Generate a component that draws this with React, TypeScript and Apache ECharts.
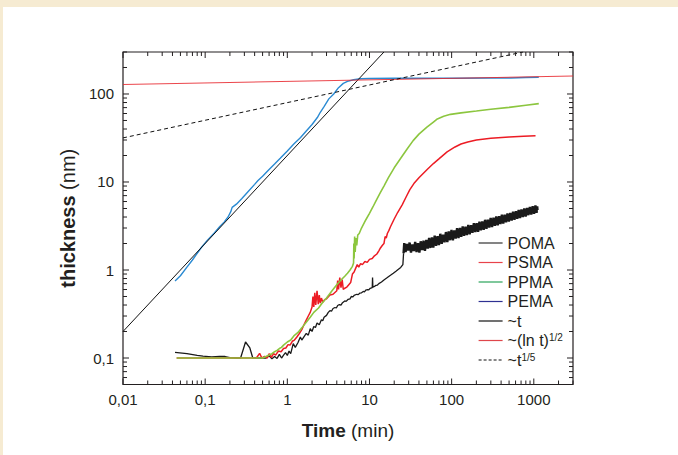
import React, { useEffect, useRef } from 'react';
import * as echarts from 'echarts';

const FONT = '"Liberation Sans", Arial, Helvetica, sans-serif';
const INK = '#231f20';

const X_MIN = 0.01;
const X_MAX = 3000;
const Y_MIN = 0.05;
const Y_MAX = 300;

const xTickValues = [0.01, 0.1, 1, 10, 100, 1000];
const xTickLabels = ['0,01', '0,1', '1', '10', '100', '1000'];
const yTickValues = [0.1, 1, 10, 100];
const yTickLabels = ['0,1', '1', '10', '100'];

const xAxisName = 'Time';
const xAxisUnit = '(min)';
const yAxisName = 'thickness';
const yAxisUnit = '(nm)';

const seriesNames = ['POMA', 'PSMA', 'PPMA', 'PEMA', '~t', '~(ln t)^1/2', '~t^1/5'];

// POMA (black) – early, thin part
const pomaEarly: [number, number][] = [
  [0.043, 0.116], [0.06, 0.112], [0.08, 0.107], [0.094, 0.105], [0.12, 0.103], [0.15, 0.104], [0.175, 0.104],
  [0.2, 0.101], [0.24, 0.1], [0.27, 0.1], [0.31, 0.152], [0.35, 0.13], [0.38, 0.1], [0.45, 0.1], [0.55, 0.1],
  [0.6, 0.106], [0.65, 0.098], [0.7, 0.104], [0.75, 0.099], [0.8, 0.11], [0.85, 0.1], [0.9, 0.108], [0.95, 0.115],
  [1.0, 0.107], [1.05, 0.12], [1.1, 0.112], [1.18, 0.146], [1.25, 0.132], [1.35, 0.15], [1.44, 0.173], [1.5, 0.16],
  [1.6, 0.175], [1.7, 0.19], [1.8, 0.182], [1.9, 0.216], [2.0, 0.2], [2.1, 0.228], [2.2, 0.222], [2.3, 0.25],
  [2.45, 0.238], [2.6, 0.272], [2.7, 0.265], [2.8, 0.29], [3.0, 0.305], [3.15, 0.33], [3.3, 0.345], [3.45, 0.34],
  [3.6, 0.365], [3.8, 0.375], [3.95, 0.37], [4.1, 0.395], [4.3, 0.405], [4.5, 0.4], [4.7, 0.425], [5.0, 0.445],
  [5.2, 0.44], [5.5, 0.465], [5.8, 0.47], [6.0, 0.5], [6.3, 0.495], [6.5, 0.515], [7.0, 0.53], [7.3, 0.525],
  [7.6, 0.545], [8.0, 0.55], [8.4, 0.57], [8.7, 0.565], [9.0, 0.59], [9.5, 0.6], [9.8, 0.595], [10.2, 0.62],
  [10.8, 0.63], [10.9, 0.82], [11.0, 0.64], [11.5, 0.65], [12, 0.67], [12.5, 0.675], [13, 0.7], [14, 0.73],
  [15, 0.77], [16.5, 0.82], [18, 0.87], [19.5, 0.92], [21, 0.97], [22.5, 1.02], [24, 1.07], [25.5, 1.15],
  [26.0, 1.55],
];

// POMA (black) – late, dense noisy band
const pomaLate: [number, number][] = [
  [26.0, 1.55], [26.5, 2.02], [27.5, 1.6], [28.5, 1.98], [29.6, 1.66], [30.8, 2.05], [32, 1.58],
  [33.3, 1.95], [34.6, 1.64], [36, 2.08], [37.4, 1.6], [38.9, 2.02], [40.5, 1.58], [42, 2.12], [43.7, 1.68],
  [45.5, 2.15], [47.3, 1.65], [49.2, 2.2], [51.2, 1.75], [53.2, 2.32], [55.3, 1.78], [57.5, 2.34], [59.8, 1.8],
  [62.2, 2.45], [64.7, 1.88], [67.3, 2.42], [70, 1.92], [72.8, 2.58], [75.7, 1.98], [78.7, 2.52], [81.9, 2.06],
  [85.2, 2.7], [88.6, 2.08], [92.1, 2.75], [95.8, 2.18], [99.6, 2.86], [103.6, 2.18], [107.7, 2.82], [112, 2.28],
  [116.5, 2.98], [121.2, 2.3], [126, 3.0], [131, 2.38], [136.3, 3.12], [141.7, 2.44], [147.4, 3.1],
  [153.3, 2.5], [159.4, 3.25], [165.8, 2.55], [172.4, 3.22], [179.3, 2.65], [186.5, 3.4], [194, 2.7],
  [201.7, 3.4], [209.8, 2.72], [218.2, 3.55], [226.9, 2.82], [236, 3.56], [245.4, 2.86], [255.2, 3.72],
  [265.4, 2.94], [276, 3.74], [287, 3.04], [298.5, 3.9], [310.5, 3.08], [323, 3.92], [336, 3.18], [349.4, 4.06],
  [363.4, 3.22], [378, 4.08], [393, 3.32], [408.7, 4.24], [425, 3.38], [442, 4.26], [459.7, 3.48], [478, 4.4],
  [497, 3.55], [517, 4.46], [537.7, 3.64], [559, 4.6], [581.5, 3.72], [604.8, 4.66], [629, 3.82], [654, 4.82],
  [680, 3.9], [707, 4.88], [735.5, 4.0], [765, 5.02], [795.5, 4.06], [827, 5.08], [860, 4.2], [895, 5.22],
  [931, 4.26], [968, 5.3], [1007, 4.36], [1047, 5.4], [1080, 4.45], [1100, 5.28], [1110, 4.8],
];

// PSMA (red)
const psmaData: [number, number][] = [
  [0.045, 0.1], [0.1, 0.1], [0.2, 0.1], [0.3, 0.1], [0.42, 0.1], [0.46, 0.113], [0.49, 0.1], [0.53, 0.104],
  [0.57, 0.1], [0.6, 0.112], [0.64, 0.102], [0.68, 0.112], [0.72, 0.108], [0.78, 0.12], [0.84, 0.118],
  [0.9, 0.128], [0.96, 0.13], [1.02, 0.142], [1.08, 0.14], [1.15, 0.155], [1.22, 0.16], [1.3, 0.172],
  [1.4, 0.19], [1.5, 0.21], [1.6, 0.24], [1.7, 0.27], [1.8, 0.3], [1.9, 0.33], [2.0, 0.38], [2.05, 0.5],
  [2.1, 0.38], [2.16, 0.55], [2.22, 0.4], [2.3, 0.58], [2.38, 0.41], [2.45, 0.52], [2.52, 0.42], [2.6, 0.48],
  [2.7, 0.43], [2.85, 0.46], [3.0, 0.47], [3.3, 0.52], [3.6, 0.53], [4.0, 0.58], [4.1, 0.76], [4.2, 0.6],
  [4.35, 0.82], [4.5, 0.63], [4.65, 0.78], [4.8, 0.6], [5.0, 0.62], [5.3, 0.64], [5.6, 0.68], [5.9, 0.72],
  [6.2, 0.9], [6.5, 0.95], [6.8, 1.05], [7.1, 1.15], [7.4, 1.08], [7.8, 1.18], [8.2, 1.15], [8.8, 1.25],
  [9.4, 1.22], [10, 1.32], [10.8, 1.35], [11.5, 1.45], [12.3, 1.52], [13.0, 1.65], [13.6, 1.78], [14.3, 1.9],
  [15.0, 2.0], [15.5, 2.4], [16, 2.3], [16.5, 2.6], [17.2, 2.8], [18, 3.1], [20, 3.8], [22, 4.5], [25, 5.5],
  [28, 6.8], [31, 8.2], [34.7, 9.6], [40, 11.2], [50, 13.8], [60, 16.2], [70, 18.3], [88, 22], [110, 25],
  [130, 27], [157, 28.5], [200, 30], [300, 31.5], [500, 32.5], [750, 33.2], [1050, 33.5],
];

// PPMA (green)
const ppmaData: [number, number][] = [
  [0.045, 0.1], [0.1, 0.1], [0.2, 0.1], [0.3, 0.1], [0.4, 0.1], [0.5, 0.1], [0.55, 0.104], [0.6, 0.108],
  [0.65, 0.112], [0.7, 0.118], [0.75, 0.122], [0.8, 0.128], [0.85, 0.132], [0.9, 0.14], [1.0, 0.152],
  [1.1, 0.16], [1.2, 0.178], [1.35, 0.195], [1.5, 0.22], [1.7, 0.255], [1.9, 0.29], [2.1, 0.33], [2.4, 0.37],
  [2.7, 0.43], [3.0, 0.48], [3.5, 0.58], [4.0, 0.68], [4.5, 0.77], [5.0, 0.85], [5.4, 0.92], [5.8, 1.0],
  [6.2, 1.1], [6.4, 1.2], [6.45, 2.0], [6.5, 1.35], [6.6, 2.4], [6.7, 1.6], [6.85, 2.3], [7.0, 1.9],
  [7.2, 2.5], [7.5, 2.6], [8, 3.0], [9, 3.7], [10, 4.4], [11, 5.2], [12, 6.1], [13.6, 7.6], [15, 9],
  [17, 11.2], [20, 14.5], [24, 18.6], [29, 24], [34, 29.5], [40, 35], [50, 42], [60, 48], [67, 52], [80, 56],
  [97, 58.7], [130, 61], [200, 64], [300, 67], [500, 70.5], [800, 74.5], [1150, 77.8],
];

// PEMA (blue)
const pemaData: [number, number][] = [
  [0.043, 0.75], [0.05, 0.86], [0.06, 1.08], [0.07, 1.3], [0.08, 1.55], [0.09, 1.8], [0.106, 2.17],
  [0.13, 2.65], [0.15, 3.1], [0.17, 3.5], [0.19, 4.0], [0.205, 4.6], [0.213, 5.15], [0.24, 5.6], [0.28, 6.5],
  [0.33, 7.7], [0.4, 9.4], [0.44, 10.4], [0.5, 11.6], [0.6, 13.9], [0.7, 16], [0.82, 18.6], [1.0, 22.5],
  [1.2, 27], [1.45, 32], [1.7, 38], [2.0, 45], [2.32, 54], [2.52, 62], [2.8, 72], [3.2, 88], [3.67, 100],
  [4.2, 118], [4.8, 132], [5.4, 139], [6.4, 145], [7.8, 149], [10, 150], [20, 151], [50, 151], [100, 151],
  [300, 152], [525, 152], [800, 154], [1150, 155],
];

// fit lines
const linearFit: [number, number][] = [[0.01, 0.2], [15, 300]];
const lnFit: [number, number][] = [[0.01, 128], [3000, 160]];
const fifthFit: [number, number][] = [[0.01, 31.7], [740, 300]];

const seriesColors = ['#1a1a1a', '#ec1c24', '#8cc63f', '#2a8ad2', '#111111', '#e8262d', '#111111'];
const legendColors = ['#333333', '#e8434a', '#2aa35a', '#2e3192', '#111111', '#d9262b', '#111111'];

function nearestLabel(v: number, values: number[], labels: string[]) {
  for (let i = 0; i < values.length; i++) {
    if (Math.abs(Math.log10(v) - Math.log10(values[i])) < 1e-6) return labels[i];
  }
  return '';
}

function buildTicks(lo: number, hi: number): [number, number][] {
  const out: [number, number][] = [];
  for (let e = -3; e <= 4; e++) {
    for (let m = 1; m <= 9; m++) {
      const v = m * Math.pow(10, e);
      if (v >= lo * 0.9999 && v <= hi * 1.0001) out.push([v, m === 1 ? 1 : 0]);
    }
  }
  return out;
}

export default function App() {
  const ref = useRef<HTMLDivElement>(null);
  useEffect(() => {
    if (!ref.current) return;
    const chart = echarts.init(ref.current, undefined, { renderer: 'svg' });
    const tickStyle = { stroke: INK, lineWidth: 1 };
    const xTicks = buildTicks(X_MIN, X_MAX);
    const yTicks = buildTicks(Y_MIN, Y_MAX);

    const lineSeries = (name: string, data: [number, number][], idx: number, extra: any = {}) => ({
      type: 'line',
      name,
      data,
      symbol: 'none',
      showSymbol: false,
      clip: true,
      silent: true,
      lineStyle: { color: seriesColors[idx], width: 1.4, ...(extra.lineStyle || {}) },
      itemStyle: { color: seriesColors[idx] },
      z: extra.z ?? 3,
    });

    const supMap: Record<string, string> = {
      '~(ln t)^1/2': '~(ln t){sup|1/2}',
      '~t^1/5': '~t{sup|1/5}',
    };

    chart.setOption({
      animation: false,
      backgroundColor: 'transparent',
      grid: {
        left: 123, top: 52, width: 450, height: 332.5,
        show: true, borderColor: INK, borderWidth: 1.2, backgroundColor: 'transparent',
      },
      xAxis: {
        type: 'log', logBase: 10, min: X_MIN, max: X_MAX,
        axisLine: { show: false }, axisTick: { show: false }, splitLine: { show: false },
        axisLabel: {
          margin: 7, fontFamily: FONT, fontSize: 15, color: INK,
          formatter: (v: number) => nearestLabel(v, xTickValues, xTickLabels),
        },
        name: `{b|${xAxisName}} ${xAxisUnit}`,
        nameLocation: 'middle', nameGap: 36,
        nameTextStyle: {
          fontFamily: FONT, fontSize: 19, color: INK,
          rich: { b: { fontFamily: FONT, fontSize: 19, fontWeight: 'bold', color: INK } },
        },
      },
      yAxis: {
        type: 'log', logBase: 10, min: Y_MIN, max: Y_MAX,
        axisLine: { show: false }, axisTick: { show: false }, splitLine: { show: false },
        axisLabel: {
          margin: 9, fontFamily: FONT, fontSize: 15, color: INK,
          formatter: (v: number) => nearestLabel(v, yTickValues, yTickLabels),
        },
        name: `{b|${yAxisName}} ${yAxisUnit}`,
        nameLocation: 'middle', nameGap: 29, nameRotate: 90,
        nameTextStyle: {
          fontFamily: FONT, fontSize: 20, color: INK,
          rich: { b: { fontFamily: FONT, fontSize: 20, fontWeight: 'bold', color: INK } },
        },
      },
      legend: {
        orient: 'vertical', left: 478, top: 235, padding: 0,
        itemWidth: 24, itemHeight: 10, itemGap: 3.5,
        selectedMode: false,
        textStyle: {
          fontFamily: FONT, fontSize: 16, color: INK, lineHeight: 16,
          rich: { sup: { fontFamily: FONT, fontSize: 10, color: INK, verticalAlign: 'top', lineHeight: 10 } },
        },
        formatter: (name: string) => supMap[name] ?? name,
        data: seriesNames.map((n, i) => ({
          name: n,
          lineStyle: { color: legendColors[i], width: 1.2, type: i === 6 ? [3, 2] : 'solid' },
          itemStyle: { color: 'rgba(0,0,0,0)', borderWidth: 0, opacity: 0 },
        })),
      },
      series: [
        lineSeries(seriesNames[0], pomaEarly, 0, { lineStyle: { width: 1.3 } }),
        lineSeries(seriesNames[0], pomaLate, 0, { lineStyle: { width: 2.4 } }),
        lineSeries(seriesNames[1], psmaData, 1, { lineStyle: { width: 1.5 } }),
        lineSeries(seriesNames[2], ppmaData, 2, { lineStyle: { width: 1.6 } }),
        lineSeries(seriesNames[3], pemaData, 3, { lineStyle: { width: 1.4 } }),
        lineSeries(seriesNames[4], linearFit, 4, { lineStyle: { width: 1 }, z: 4 }),
        lineSeries(seriesNames[5], lnFit, 5, { lineStyle: { width: 1.1, opacity: 0.85 }, z: 4 }),
        lineSeries(seriesNames[6], fifthFit, 6, { lineStyle: { width: 1, type: [4, 3] }, z: 4 }),
        {
          type: 'custom', name: 'xticks', silent: true, clip: false, z: 10,
          data: xTicks.map(([v, major]) => [v, 1, major]),
          encode: { x: 0, y: 1 },
          renderItem: (params: any, api: any) => {
            const v = api.value(0);
            const len = api.value(2) ? 6 : 4;
            const b = api.coord([v, Y_MIN]);
            const t = api.coord([v, Y_MAX]);
            return {
              type: 'group',
              children: [
                { type: 'line', shape: { x1: b[0], y1: b[1], x2: b[0], y2: b[1] - len }, style: tickStyle },
                { type: 'line', shape: { x1: t[0], y1: t[1], x2: t[0], y2: t[1] + len }, style: tickStyle },
              ],
            };
          },
        },
        {
          type: 'custom', name: 'yticks', silent: true, clip: false, z: 10,
          data: yTicks.map(([v, major]) => [1, v, major]),
          encode: { x: 0, y: 1 },
          renderItem: (params: any, api: any) => {
            const v = api.value(1);
            const len = api.value(2) ? 6 : 4;
            const l = api.coord([X_MIN, v]);
            const r = api.coord([X_MAX, v]);
            return {
              type: 'group',
              children: [
                { type: 'line', shape: { x1: l[0], y1: l[1], x2: l[0] + len, y2: l[1] }, style: tickStyle },
                { type: 'line', shape: { x1: r[0], y1: r[1], x2: r[0] - len, y2: r[1] }, style: tickStyle },
              ],
            };
          },
        },
      ],
    });
    return () => chart.dispose();
  }, []);

  return (
    <div style={{ position: 'fixed', left: 0, top: 0, width: 678, height: 455, background: '#f6ebd2', overflow: 'hidden' }}>
      <div style={{ position: 'absolute', left: 3, top: 7, right: 0, bottom: 0, background: '#ffffff' }} />
      <div ref={ref} style={{ position: 'absolute', left: 0, top: 0, width: 678, height: 455 }} />
    </div>
  );
}
